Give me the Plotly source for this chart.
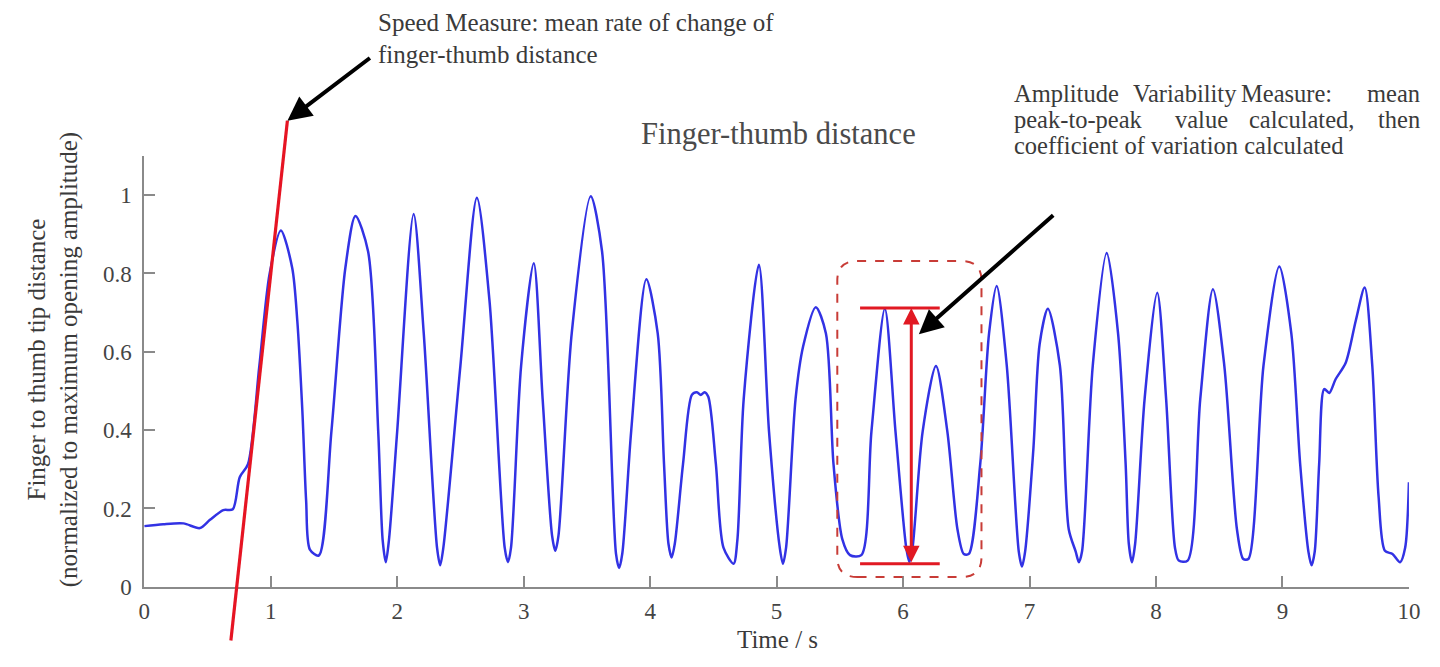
import plotly.graph_objects as go

# ---------------- data ----------------
TIME = [0.0, 0.15, 0.31, 0.44, 0.52, 0.625, 0.70, 0.755, 0.82, 0.91, 0.99, 1.08, 1.17, 1.21, 1.25,
        1.28, 1.31, 1.38, 1.48, 1.59, 1.67, 1.77, 1.85, 1.885, 1.91, 1.935, 2.0, 2.13, 2.21,
        2.315, 2.34, 2.365, 2.50, 2.63, 2.73, 2.85, 2.876, 2.90, 2.98, 3.08, 3.15, 3.225, 3.25,
        3.275, 3.38, 3.53, 3.62, 3.73, 3.755, 3.78, 3.85, 3.97, 4.06, 4.11, 4.145, 4.17, 4.195,
        4.26, 4.33, 4.37, 4.40, 4.43, 4.46, 4.52, 4.58, 4.66, 4.69, 4.74, 4.86, 4.94, 5.025,
        5.05, 5.075, 5.15, 5.21, 5.31, 5.39, 5.45, 5.52, 5.58, 5.67, 5.75, 5.856, 5.94, 6.025,
        6.05, 6.075, 6.155, 6.26, 6.35, 6.43, 6.48, 6.52, 6.61, 6.68, 6.74, 6.82, 6.915, 6.94,
        6.965, 7.03, 7.08, 7.145, 7.24, 7.31, 7.365, 7.39, 7.415, 7.50, 7.61, 7.70, 7.76, 7.785,
        7.81, 7.835, 7.91, 8.01, 8.08, 8.15, 8.18, 8.25, 8.35, 8.45, 8.54, 8.64, 8.69, 8.73,
        8.85, 8.975, 9.07, 9.14, 9.205, 9.23, 9.255, 9.29, 9.33, 9.37, 9.42, 9.50, 9.58, 9.65,
        9.71, 9.76, 9.81, 9.87, 9.93, 9.97, 10.0]
DIST = [0.155, 0.16, 0.162, 0.15, 0.171, 0.196, 0.198, 0.28, 0.313, 0.564, 0.797, 0.91, 0.814, 0.68, 0.45,
        0.22, 0.095, 0.08, 0.397, 0.814, 0.947, 0.856, 0.397, 0.12, 0.063, 0.12, 0.397, 0.952, 0.647,
        0.1, 0.055, 0.1, 0.565, 0.993, 0.73, 0.1, 0.063, 0.1, 0.565, 0.826, 0.48, 0.13, 0.092,
        0.13, 0.647, 0.997, 0.856, 0.085, 0.048, 0.085, 0.397, 0.785, 0.647, 0.313, 0.11, 0.075, 0.11,
        0.313, 0.49, 0.497, 0.49, 0.497, 0.485, 0.313, 0.1, 0.059, 0.12, 0.48, 0.822, 0.397, 0.1,
        0.059, 0.1, 0.48, 0.614, 0.714, 0.647, 0.313, 0.121, 0.081, 0.081, 0.397, 0.71, 0.397, 0.1,
        0.063, 0.1, 0.397, 0.564, 0.397, 0.147, 0.084, 0.084, 0.313, 0.647, 0.768, 0.565, 0.09, 0.052,
        0.09, 0.35, 0.62, 0.71, 0.565, 0.147, 0.09, 0.063, 0.09, 0.565, 0.852, 0.647, 0.313, 0.11,
        0.063, 0.11, 0.48, 0.751, 0.48, 0.1, 0.067, 0.067, 0.48, 0.76, 0.565, 0.147, 0.071, 0.071,
        0.565, 0.818, 0.647, 0.313, 0.09, 0.055, 0.09, 0.313, 0.505, 0.495, 0.53, 0.572, 0.68, 0.764,
        0.565, 0.23, 0.092, 0.084, 0.063, 0.1, 0.267]

X_TICKS = [0, 1, 2, 3, 4, 5, 6, 7, 8, 9, 10]
X_TICK_TEXT = ["0", "1", "2", "3", "4", "5", "6", "7", "8", "9", "10"]
Y_TICKS = [0, 0.2, 0.4, 0.6, 0.8, 1.0]
Y_TICK_TEXT = ["0", "0.2", "0.4", "0.6", "0.8", "1"]

# speed measure line (time, distance)
SPEED_T = [0.685, 1.132]
SPEED_Y = [-0.137, 1.19]
# peak-to-peak measure
P2P_T = [5.66, 6.29]
P2P_TOP = 0.712
P2P_BOT = 0.059
P2P_ARROW_T = 6.065
BOX_T = [5.48, 6.62]
BOX_Y = [0.025, 0.832]
# pointer arrows (tail -> head), in data units
SPEED_PTR = [(1.796, 1.353), (1.132, 1.19)]
AMP_PTR = [(7.199, 0.952), (6.125, 0.645)]

TITLE = "Finger-thumb distance"
X_TITLE = "Time / s"
Y_TITLE = ["Finger to thumb tip distance", "(normalized to maximum opening amplitude)"]
SPEED_TEXT = ["Speed Measure: mean rate of change of", "finger-thumb distance"]
AMP_WORDS = [["Amplitude", "Variability", "Measure:", "mean"],
             ["peak-to-peak", "value", "calculated,", "then"],
             ["coefficient of variation calculated"]]

# ---------------- layout geometry (reference frame in pixels) ----------------
W, H = 1440, 667
PX_X0, PX_PER_X = 140.0, 128.07
PY_Y0, PX_PER_Y = 598.5, 399.5
X_RANGE = [0, 10]
Y_RANGE = [0, 1.1]

FONT = "Liberation Serif, Times New Roman, serif"
TXT = "#3a3a3a"
AX = "#8a8a8a"


def fx(px):
    return px / W


def fy(py):
    return 1 - py / H


xdom = [fx(PX_X0 + X_RANGE[0] * PX_PER_X), fx(PX_X0 + X_RANGE[1] * PX_PER_X)]
ydom = [fy(PY_Y0 - Y_RANGE[0] * PX_PER_Y), fy(PY_Y0 - Y_RANGE[1] * PX_PER_Y)]
x2rng = [(0 - PX_X0) / PX_PER_X, (W - PX_X0) / PX_PER_X]
y2rng = [(PY_Y0 - H) / PX_PER_Y, PY_Y0 / PX_PER_Y]

fig = go.Figure()
fig.add_trace(go.Scatter(x=TIME, y=DIST, mode="lines",
                         line=dict(color="rgb(50,50,228)", width=2.5, shape="spline", smoothing=0.8),
                         showlegend=False, hoverinfo="skip"))
# I-beam bars
for yv in (P2P_TOP, P2P_BOT):
    fig.add_trace(go.Scatter(x=P2P_T, y=[yv, yv], mode="lines",
                             line=dict(color="rgb(225,25,35)", width=3),
                             showlegend=False, hoverinfo="skip"))
# speed line on full-canvas subplot (not clipped)
fig.add_trace(go.Scatter(x=SPEED_T, y=SPEED_Y, mode="lines", xaxis="x2", yaxis="y2",
                         line=dict(color="rgb(230,20,35)", width=3.2),
                         showlegend=False, hoverinfo="skip"))

# rounded dashed box
x0, x1 = BOX_T
y0, y1 = BOX_Y
rx, ry = 0.16, 0.05
path = (f"M {x0+rx},{y0} L {x1-rx},{y0} Q {x1},{y0} {x1},{y0+ry} L {x1},{y1-ry} "
        f"Q {x1},{y1} {x1-rx},{y1} L {x0+rx},{y1} Q {x0},{y1} {x0},{y1-ry} "
        f"L {x0},{y0+ry} Q {x0},{y0} {x0+rx},{y0} Z")
fig.add_shape(type="path", path=path, xref="x", yref="y",
              line=dict(color="rgb(200,60,55)", width=2, dash="dash"))

ann = []
# double arrow
ann.append(dict(x=P2P_ARROW_T, y=P2P_TOP, ax=P2P_ARROW_T, ay=P2P_BOT, xref="x2", yref="y2",
                axref="x2", ayref="y2", text="", showarrow=True, arrowhead=2, arrowside="end+start",
                arrowsize=1.1, arrowwidth=3, arrowcolor="rgb(225,25,35)", standoff=0, startstandoff=0))
for ptr in (SPEED_PTR, AMP_PTR):
    (tx, ty), (hx, hy) = ptr
    ann.append(dict(x=hx, y=hy, ax=tx, ay=ty, xref="x2", yref="y2", axref="x2", ayref="y2",
                    text="", showarrow=True, arrowhead=2, arrowsize=1.2, arrowwidth=4,
                    arrowcolor="black", standoff=0))

# texts
ann.append(dict(x=fx(782), y=fy(137), xref="paper", yref="paper", text=TITLE, showarrow=False,
                font=dict(family=FONT, size=30.5, color="#4a4a4a"), xanchor="center", yanchor="middle"))
for i, line in enumerate(SPEED_TEXT):
    ann.append(dict(x=fx(375), y=fy(23 + i * 33), xref="paper", yref="paper", text=line,
                    showarrow=False, font=dict(family=FONT, size=25, color=TXT),
                    xanchor="left", yanchor="middle"))
word_x = [[1019, 1139, 1249, 1376], [1019, 1182, 1257, 1387], [1019]]
for li, words in enumerate(AMP_WORDS):
    for wi, w in enumerate(words):
        ann.append(dict(x=fx(word_x[li][wi]), y=fy(95 + li * 26.5), xref="paper", yref="paper",
                        text=w, showarrow=False, font=dict(family=FONT, size=24.5, color=TXT),
                        xanchor="left", yanchor="middle"))
ann.append(dict(x=fx(781), y=fy(652), xref="paper", yref="paper", text=X_TITLE, showarrow=False,
                font=dict(family=FONT, size=25, color=TXT), xanchor="center", yanchor="middle",
                borderpad=0))
ann.append(dict(x=fx(48), y=fy(367), xref="paper", yref="paper", text="<br>".join(Y_TITLE),
                showarrow=False, textangle=-90, font=dict(family=FONT, size=25, color=TXT),
                xanchor="center", yanchor="middle"))

axis_common = dict(showgrid=False, zeroline=False, showline=True, linecolor=AX, linewidth=2,
                   ticks="inside", ticklen=11, tickcolor=AX, tickwidth=1.5,
                   ticklabeloverflow="allow",
                   tickfont=dict(family=FONT, size=23, color="#444"))

fig.update_layout(
    autosize=True, margin=dict(l=0, r=0, t=0, b=0, pad=0),
    paper_bgcolor="white", plot_bgcolor="rgba(0,0,0,0)", showlegend=False,
    xaxis=dict(domain=xdom, range=X_RANGE, tickmode="array", tickvals=X_TICKS,
               ticktext=X_TICK_TEXT, anchor="y", ticklabelstandoff=3, **axis_common),
    yaxis=dict(domain=ydom, range=Y_RANGE, tickmode="array", tickvals=Y_TICKS,
               ticktext=Y_TICK_TEXT, anchor="x", ticklabelstandoff=6, **axis_common),
    xaxis2=dict(domain=[0, 1], range=x2rng, visible=False, anchor="y2", fixedrange=True),
    yaxis2=dict(domain=[0, 1], range=y2rng, visible=False, anchor="x2", fixedrange=True),
    annotations=ann,
)

PIN_TO_VIEWPORT = (
    "var d=document.getElementById('{plot_id}');"
    "d.style.position='fixed';d.style.left='0px';d.style.top='0px';"
    "document.documentElement.style.overflow='hidden';"
    "document.body.style.margin='0';document.body.style.overflow='hidden';"
    "Plotly.Plots.resize(d);"
)

fig.write_html("out.html", config={"displayModeBar": False, "responsive": True},
               default_width="100vw", default_height="100vh", post_script=PIN_TO_VIEWPORT)
